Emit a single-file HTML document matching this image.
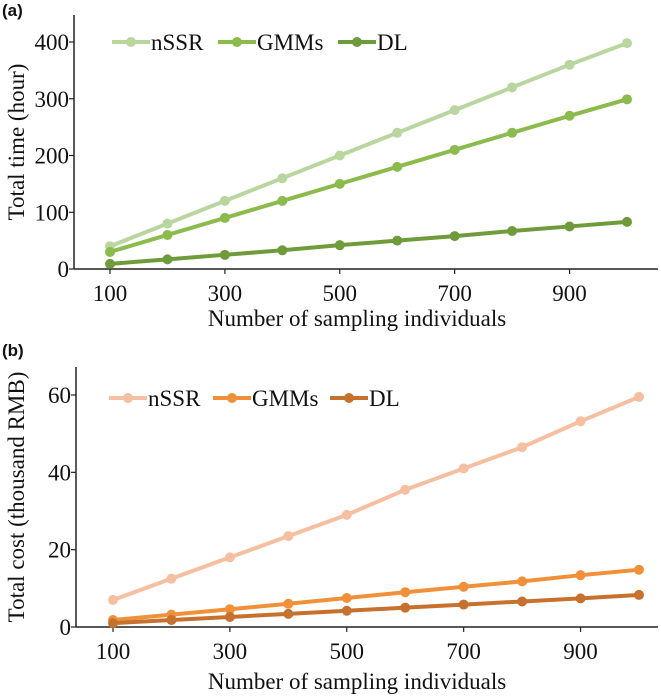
<!DOCTYPE html>
<html><head><meta charset="utf-8"><style>
body{margin:0;background:#fff;}
svg{display:block;font-family:"Liberation Serif",serif;}
</style></head><body>
<svg id="chart" width="661" height="700"></svg>
<script>
const categories=[100,200,300,400,500,600,700,800,900,1000];
const xTicks=[100,300,500,700,900];
const timeNSSR=[40,80,120,160,200,240,280,320,360,398];
const timeGMMs=[30,60,90,120,150,180,210,240,270,299];
const timeDL=[9,17,25,33,42,50,58,67,75,83];
const timeTicks=[0,100,200,300,400];
const costNSSR=[7,12.5,18,23.5,29,35.5,41,46.5,53.2,59.5];
const costGMMs=[1.8,3.2,4.6,6,7.5,9,10.4,11.8,13.4,14.8];
const costDL=[1,1.8,2.6,3.4,4.2,5,5.8,6.6,7.4,8.3];
const costTicks=[0,20,40,60];
const seriesNames=["nSSR","GMMs","DL"];

const svg=document.getElementById('chart');
const NS='http://www.w3.org/2000/svg';
function mk(tag,attrs,parent,text){const e=document.createElementNS(NS,tag);for(const k in attrs)e.setAttribute(k,attrs[k]);if(text!==undefined)e.textContent=text;(parent||svg).appendChild(e);return e;}

function panel(p){
  const g=mk('g',{});
  
  
  const xs=v=>p.x0+(v-100)/900*(p.x1-p.x0);
  const ys=v=>p.y0-v/p.yMax*(p.y0-p.yTop);
  const lbl=mk('text',{x:2,y:p.labelY,'font-family':'Liberation Sans,sans-serif','font-weight':'bold','font-size':17,fill:'#111'},g,p.label);
  
  
  const ya=mk('line',{x1:p.ax,y1:p.axTop,x2:p.ax,y2:p.y0,stroke:'#222','stroke-width':1.5},g);
  
  
  const xa=mk('line',{x1:p.ax,y1:p.y0,x2:658,y2:p.y0,stroke:'#222','stroke-width':1.5},g);
  
  
  p.yTicks.forEach(t=>{
    const y=ys(t);
    mk('line',{x1:p.ax-5,y1:y,x2:p.ax,y2:y,stroke:'#222','stroke-width':1.2},g);
    const tt=mk('text',{x:p.ax-5,y:y+8,'text-anchor':'end','font-size':23,fill:'#111'},g,t);
    
    
  });
  xTicks.forEach(t=>{
    const x=xs(t);
    mk('line',{x1:x,y1:p.y0,x2:x,y2:p.y0+5,stroke:'#222','stroke-width':1.2},g);
    const tt=mk('text',{x:x,y:p.y0+32,'text-anchor':'middle','font-size':23,fill:'#111'},g,t);
    
    
  });
  const xt=mk('text',{x:357,y:p.y0+p.xtOff,'text-anchor':'middle','font-size':23,fill:'#111'},g,'Number of sampling individuals');
  
  
  const cy=(p.y0+p.axTop)/2;
  const yt=mk('text',{x:0,y:0,'text-anchor':'middle','font-size':23,fill:'#111',transform:`translate(24,${cy}) rotate(-90)`},g,p.yTitle);
  
  
  p.series.forEach((s,i)=>{
    const pts=s.map((v,j)=>xs(categories[j])+','+ys(v)).join(' ');
    const l=mk('polyline',{points:pts,fill:'none',stroke:p.colors[i],'stroke-width':4,'stroke-linejoin':'round'},g);
    
    
    s.forEach((v,j)=>{
      const c=mk('circle',{cx:xs(categories[j]),cy:ys(v),r:5,fill:p.colors[i]},g);
      
      
    });
    const lx=p.legX[i];
    const le=mk('g',{},g);
    
    
    mk('line',{x1:lx,y1:p.legY,x2:lx+38,y2:p.legY,stroke:p.colors[i],'stroke-width':4},le);
    mk('circle',{cx:lx+19,cy:p.legY,r:5,fill:p.colors[i]},le);
    mk('text',{x:lx+39,y:p.legY+8,'font-size':23,fill:'#111'},le,seriesNames[i]);
  });
}
panel({name:'time-chart',label:'(a)',labelY:16,ax:74,axTop:15,y0:269,yTop:42,yMax:400,x0:110,x1:627,xtOff:57,
  yTicks:timeTicks,yTitle:'Total time (hour)',series:[timeNSSR,timeGMMs,timeDL],
  colors:['#b9d69f','#8bbb4c','#6f9b3a'],legX:[112,218,338],legY:42});
panel({name:'cost-chart',label:'(b)',labelY:356,ax:76,axTop:367,y0:627,yTop:395,yMax:60,x0:113,x1:639,xtOff:62,
  yTicks:costTicks,yTitle:'Total cost (thousand RMB)',series:[costNSSR,costGMMs,costDL],
  colors:['#f6bfa1','#f0913a','#c7712f'],legX:[109,213,330],legY:398});
</script>
</body></html>
